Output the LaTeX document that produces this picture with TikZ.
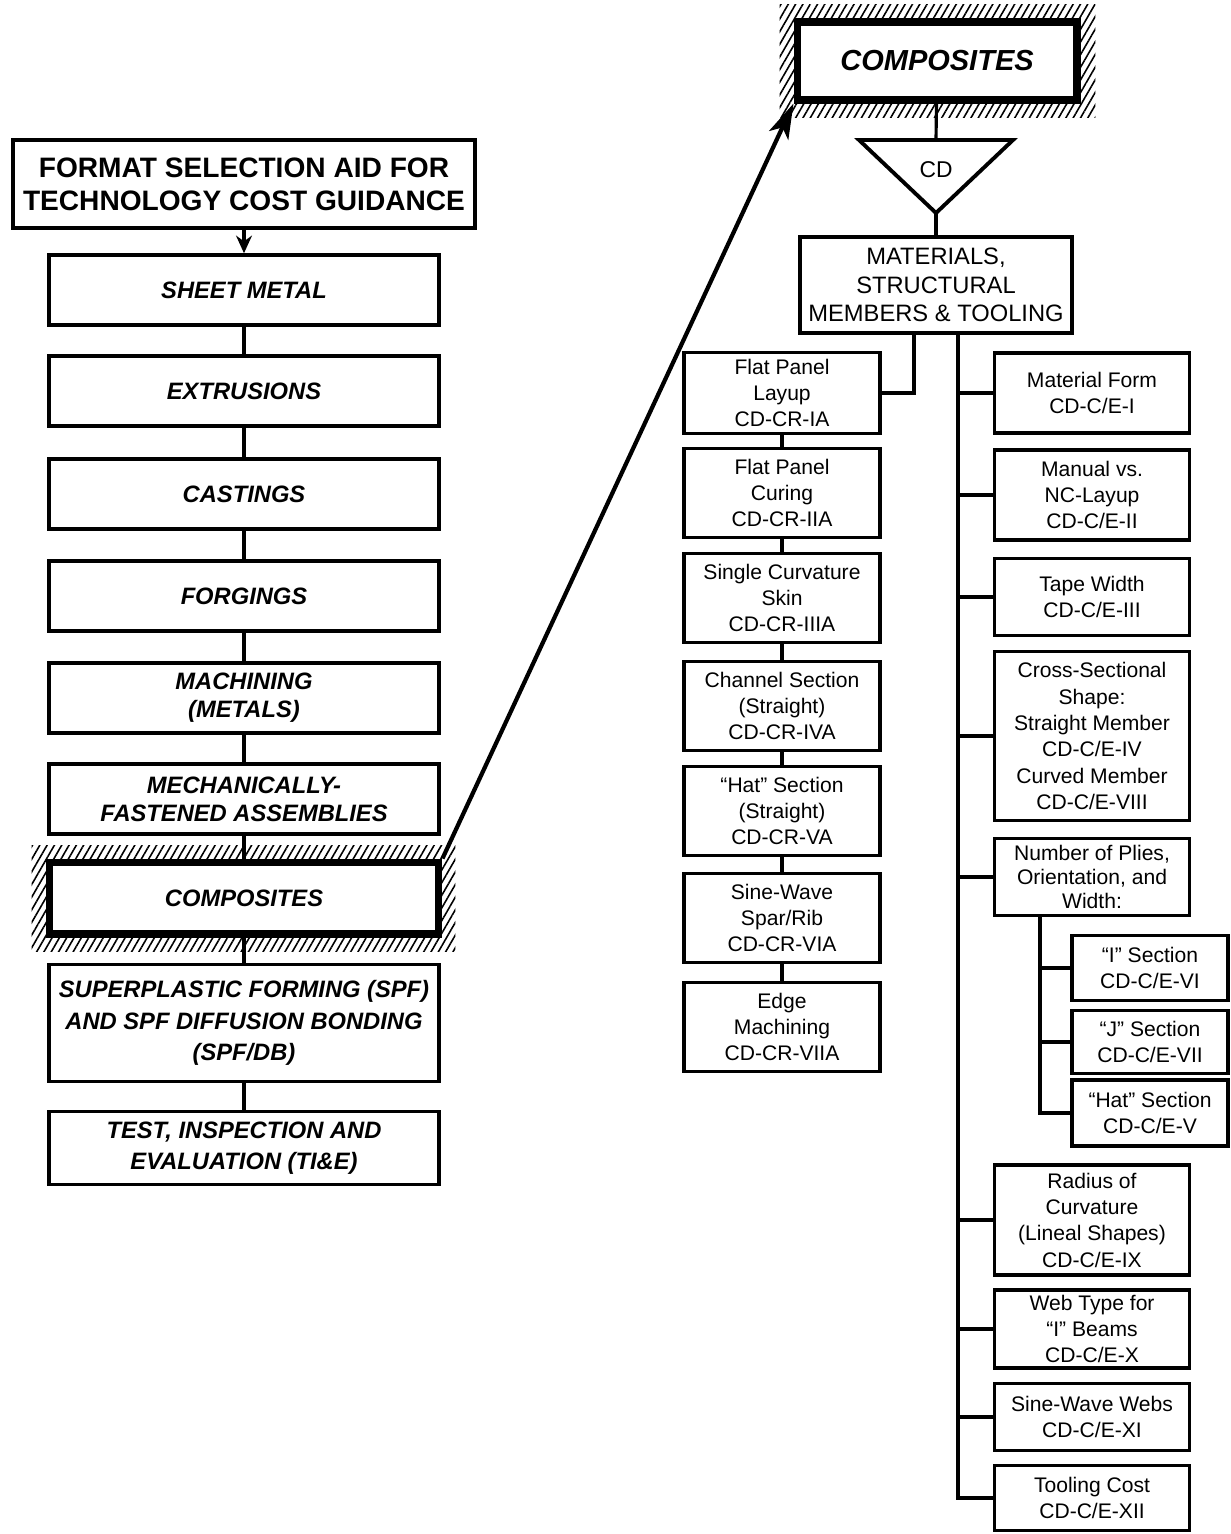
\documentclass[tikz,border=0pt]{standalone}
\usepackage{fontspec}
\setmainfont{Liberation Sans}
\usetikzlibrary{arrows.meta,calc,backgrounds,patterns.meta}

\tikzset{
  mainbox/.style={draw, fill=white, line width=2pt, minimum width=7.8cm, minimum height=1.4cm,
    align=center, inner sep=0pt, font=\fontsize{13.5}{16}\selectfont\bfseries\itshape},
  keybox/.style={mainbox, line width=4pt},
  crbox/.style={draw, fill=white, line width=2pt, minimum width=3.92cm, minimum height=1.78cm,
    align=center, inner sep=0pt, font=\fontsize{12}{15}\selectfont},
  cebox/.style={crbox, minimum width=3.9cm},
  secbox/.style={crbox, minimum width=3.12cm},
  link/.style={line width=1.8pt},
  hatch/.style={pattern={Lines[angle=60, distance=3.6pt, line width=0.9pt]}},
}

\begin{document}
\begin{tikzpicture}[x=0.02cm, y=-0.02cm]
  \useasboundingbox (0,0) rectangle (1230,1534);

  %%%%% format list %%%%%
  \node[mainbox, line width=2.4pt, minimum width=9.24cm, minimum height=1.76cm, font=\fontsize{16}{18.7}\selectfont\bfseries]
    (title) at (244,184) {FORMAT SELECTION AID FOR\\TECHNOLOGY COST GUIDANCE};
  \node[mainbox] (sheet) at (244,290) {SHEET METAL};
  \node[mainbox] (extr) at (244,391) {EXTRUSIONS};
  \node[mainbox] (cast) at (244,494) {CASTINGS};
  \node[mainbox] (forg) at (244,596) {FORGINGS};
  \node[mainbox] (mach) at (244,698) {MACHINING\\(METALS)};
  \node[mainbox] (mech) at (244,799) {MECHANICALLY-\\FASTENED ASSEMBLIES};
  \node[keybox, minimum height=1.44cm] (comp) at (244,898) {COMPOSITES};
  \node[mainbox, minimum height=2.34cm, font=\fontsize{13.5}{18}\selectfont\bfseries\itshape]
    (spf) at (244,1023) {SUPERPLASTIC FORMING (SPF)\\AND SPF DIFFUSION BONDING\\(SPF/DB)};
  \node[mainbox, minimum height=1.46cm, font=\fontsize{13.5}{18}\selectfont\bfseries\itshape]
    (tie) at (244,1148) {TEST, INSPECTION AND\\EVALUATION (TI\&E)};

  \draw[link, -{Stealth[length=10pt, width=9pt]}] (title) -- (sheet);
  \draw[link] (sheet) -- (extr);
  \draw[link] (extr) -- (cast);
  \draw[link] (cast) -- (forg);
  \draw[link] (forg) -- (mach);
  \draw[link] (mach) -- (mech);
  \draw[link] (mech) -- (comp);
  \draw[link] (comp) -- (spf);
  \draw[link] (spf) -- (tie);

  %%%%% composites breakdown %%%%%
  \node[keybox, minimum width=5.6cm, minimum height=1.56cm, font=\fontsize{16.5}{19}\selectfont\bfseries\itshape]
    (ctop) at (937,61) {COMPOSITES};

  \begin{scope}[on background layer]
    \fill[hatch] ($(comp.north west)+(-0.28cm,0.26cm)$) rectangle ($(comp.south east)+(0.26cm,-0.28cm)$);
    \fill[hatch] ($(ctop.north west)+(-0.28cm,0.28cm)$) rectangle ($(ctop.south east)+(0.3cm,-0.28cm)$);
  \end{scope}

  \draw[line width=2.4pt, -{Stealth[length=20pt, width=12pt, inset=5pt]}] (comp.north east) -- (ctop.south west);

  % CD triangle
  \coordinate (cdtop) at (936,140);
  \coordinate (cdbot) at (936,213);
  \draw[line width=2.2pt, line join=miter] (859,140) -- (1013,140) -- (cdbot) -- cycle;
  \node[font=\fontsize{13}{15}\selectfont] (cd) at (936,170) {CD};
  \draw[link] (ctop) -- (cdtop);

  \node[crbox, minimum width=5.44cm, minimum height=1.92cm, font=\fontsize{13.5}{16.4}\selectfont]
    (mat) at (936,285) {MATERIALS,\\STRUCTURAL\\MEMBERS \& TOOLING};
  \draw[link] (cdbot) -- (mat);

  % CR column
  \node[crbox, minimum height=1.62cm] (cr1) at (782,393) {Flat Panel\\Layup\\CD-CR-IA};
  \node[crbox] (cr2) at (782,493) {Flat Panel\\Curing\\CD-CR-IIA};
  \node[crbox] (cr3) at (782,598) {Single Curvature\\Skin\\CD-CR-IIIA};
  \node[crbox] (cr4) at (782,706) {Channel Section\\(Straight)\\CD-CR-IVA};
  \node[crbox] (cr5) at (782,811) {``Hat'' Section\\(Straight)\\CD-CR-VA};
  \node[crbox] (cr6) at (782,918) {Sine-Wave\\Spar/Rib\\CD-CR-VIA};
  \node[crbox] (cr7) at (782,1027) {Edge\\Machining\\CD-CR-VIIA};

  \coordinate (lsplit) at (914,333);
  \draw[link] (lsplit) |- (cr1.east);
  \foreach \a/\b in {cr1/cr2, cr2/cr3, cr3/cr4, cr4/cr5, cr5/cr6, cr6/cr7}
    \draw[link] (\a) -- (\b);

  % C/E column
  \node[cebox, minimum height=1.6cm] (ce1) at (1092,393) {Material Form\\CD-C/E-I};
  \node[cebox, minimum height=1.8cm] (ce2) at (1092,495) {Manual vs.\\NC-Layup\\CD-C/E-II};
  \node[cebox, minimum height=1.54cm] (ce3) at (1092,597) {Tape Width\\CD-C/E-III};
  \node[cebox, minimum height=3.38cm] (ce4) at (1092,736)
    {Cross-Sectional\\Shape:\\Straight Member\\CD-C/E-IV\\Curved Member\\CD-C/E-VIII};
  \node[cebox, minimum height=1.54cm, font=\fontsize{12}{13.5}\selectfont] (ply) at (1092,877)
    {Number of Plies,\\Orientation, and\\Width:};
  \node[cebox, minimum height=2.2cm] (ce9) at (1092,1220) {Radius of\\Curvature\\(Lineal Shapes)\\CD-C/E-IX};
  \node[cebox, minimum height=1.56cm] (ce10) at (1092,1329) {Web Type for\\``I'' Beams\\CD-C/E-X};
  \node[cebox, minimum height=1.34cm] (ce11) at (1092,1417) {Sine-Wave Webs\\CD-C/E-XI};
  \node[cebox, minimum height=1.3cm] (ce12) at (1092,1498) {Tooling Cost\\CD-C/E-XII};

  \node[secbox, minimum height=1.3cm] (sec6) at (1150,968) {``I'' Section\\CD-C/E-VI};
  \node[secbox, minimum height=1.26cm] (sec7) at (1150,1042) {``J'' Section\\CD-C/E-VII};
  \node[secbox, minimum height=1.32cm] (sec5) at (1150,1113) {``Hat'' Section\\CD-C/E-V};

  \coordinate (trunk) at (958,333);
  \draw[link] (trunk) |- (ce12.west);
  \foreach \n in {ce1, ce2, ce3, ce4, ply, ce9, ce10, ce11}
    \draw[link] (trunk |- \n.west) -- (\n.west);

  \coordinate (subsplit) at (1040,916);
  \draw[link] (subsplit) |- (sec5.west);
  \foreach \n in {sec6, sec7}
    \draw[link] (subsplit |- \n.west) -- (\n.west);

\end{tikzpicture}
\end{document}
